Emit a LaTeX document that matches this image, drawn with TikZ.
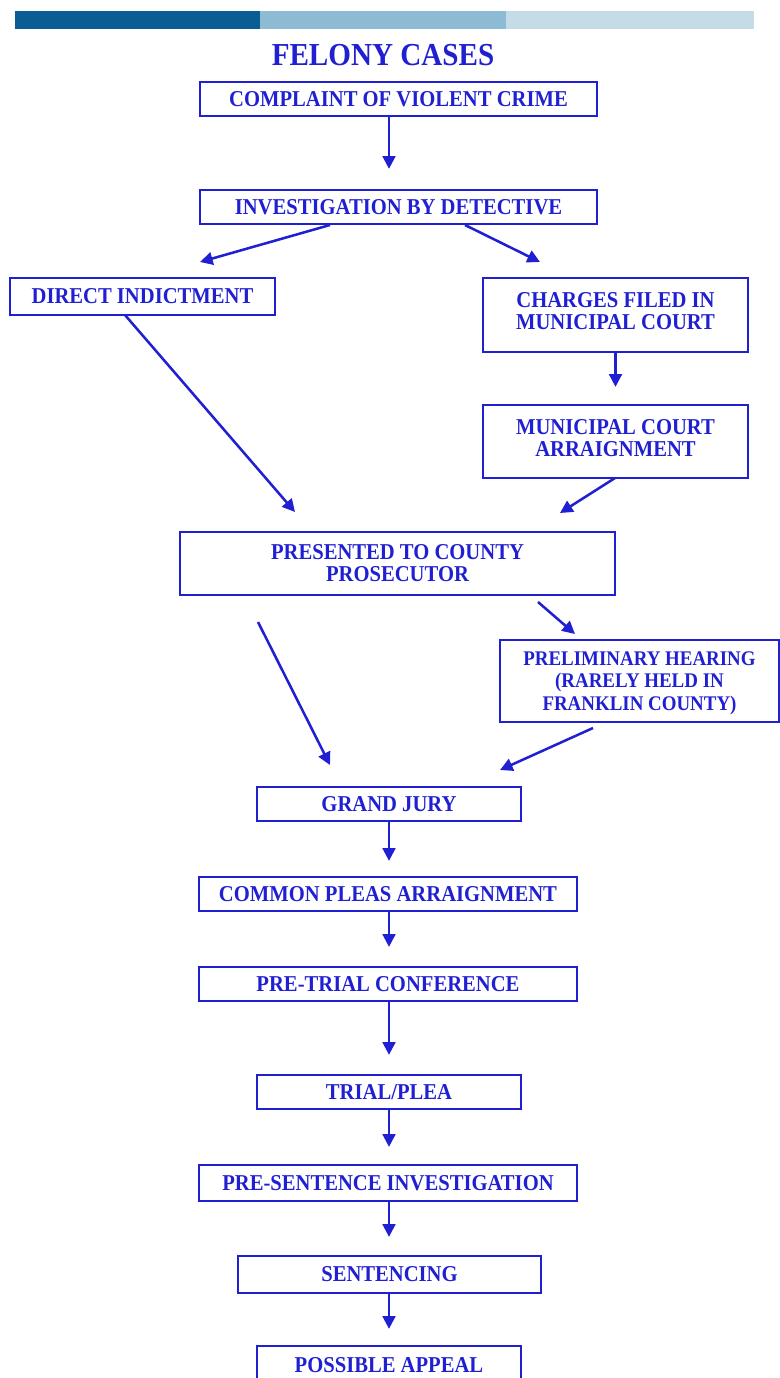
\documentclass[tikz,border=0pt]{standalone}
\usepackage{fontspec}
\setmainfont{Liberation Serif}
\newfontfamily\slidefont[FakeStretch=0.91]{Liberation Serif}
\usetikzlibrary{arrows.meta}

\definecolor{felonyblue}{RGB}{32,32,210}
\definecolor{bardark}{RGB}{10,93,148}
\definecolor{barmid}{RGB}{141,187,211}
\definecolor{barlight}{RGB}{197,220,232}

% one unit = one pixel of the slide
\newdimen\pxu \pxu=0.75pt

\tikzset{
  stage/.style={draw=felonyblue, line width=1.7pt, text=felonyblue,
    font=\slidefont\fontsize{17}{16.5}\selectfont\bfseries, align=center, inner sep=0pt},
  raised/.style={text depth=6pt},
  flow/.style={draw=felonyblue, line width=1.9pt,
    -{Triangle[length=9.5pt,width=9.5pt]}},
}

\begin{document}
\begin{tikzpicture}[x=0.75pt,y=-0.75pt]
    \useasboundingbox (0,0) rectangle (780,1378);
    \clip (0,0) rectangle (780,1378);

    % banner on top of the slide
    \fill[bardark] (15,11) rectangle (260,29);
    \fill[barmid] (260,11) rectangle (506,29);
    \fill[barlight] (506,11) rectangle (754,29);

    \node[text=felonyblue, font=\slidefont\fontsize{24}{26}\selectfont\bfseries] (title) at (383,55) {FELONY CASES};

    % the boxes
    \node[stage, minimum width=397\pxu, minimum height=34\pxu] (complaint) at (398.5,99) {COMPLAINT OF VIOLENT CRIME};
    \node[stage, minimum width=397\pxu, minimum height=34\pxu] (invest) at (398.5,207) {INVESTIGATION BY DETECTIVE};
    \node[stage, minimum width=265\pxu, minimum height=37\pxu] (direct) at (142.5,296.5) {DIRECT INDICTMENT};
    \node[stage, raised, minimum width=265\pxu, minimum height=74\pxu] (charges) at (615.5,315) {CHARGES FILED IN\\MUNICIPAL COURT};
    \node[stage, raised, minimum width=265\pxu, minimum height=73\pxu] (muniarr) at (615.5,441.5) {MUNICIPAL COURT\\ARRAIGNMENT};
    \node[stage, minimum width=435\pxu, minimum height=63\pxu] (presented) at (397.5,563.5) {PRESENTED TO COUNTY\\PROSECUTOR};
    \node[stage, font=\slidefont\fontsize{15.6}{17}\selectfont\bfseries, text depth=-1.5pt, minimum width=279\pxu, minimum height=82\pxu] (prelim) at (639.5,681) {PRELIMINARY HEARING\\(RARELY HELD IN\\FRANKLIN COUNTY)};
    \node[stage, minimum width=264\pxu, minimum height=34\pxu] (grand) at (389,804) {GRAND JURY};
    \node[stage, minimum width=378\pxu, minimum height=34\pxu] (common) at (388,894) {COMMON PLEAS ARRAIGNMENT};
    \node[stage, minimum width=378\pxu, minimum height=34\pxu] (pretrial) at (388,984) {PRE-TRIAL CONFERENCE};
    \node[stage, minimum width=264\pxu, minimum height=34\pxu] (trial) at (389,1092) {TRIAL/PLEA};
    \node[stage, minimum width=378\pxu, minimum height=36\pxu] (presentence) at (388,1183) {PRE-SENTENCE INVESTIGATION};
    \node[stage, minimum width=303\pxu, minimum height=37\pxu] (sentencing) at (389.5,1274.5) {SENTENCING};
    \node[stage, minimum width=264\pxu, minimum height=38\pxu] (appeal) at (389,1365) {POSSIBLE APPEAL};

    % loose ends of the slanted arrows
    \coordinate (invL) at (330,225);
    \coordinate (invR) at (465,225);
    \coordinate (dirIn) at (200,262);
    \coordinate (chgIn) at (540,262);
    \coordinate (dirOut) at (125,315);
    \coordinate (presInL) at (295,512);
    \coordinate (munOut) at (615,478);
    \coordinate (presInR) at (560,513);
    \coordinate (presOutR) at (538,602);
    \coordinate (prelIn) at (575,634);
    \coordinate (presOutL) at (258,622);
    \coordinate (grandInL) at (330,765);
    \coordinate (prelOut) at (593,728);
    \coordinate (grandInR) at (500,770);

    \draw[flow, shorten >=20\pxu] (complaint.south -| grand) -- (invest.north -| grand);
    \draw[flow] (invL) -- (dirIn);
    \draw[flow] (invR) -- (chgIn);
    \draw[flow, shorten >=17\pxu] (charges.south) -- (muniarr.north);
    \draw[flow] (dirOut) -- (presInL);
    \draw[flow] (munOut) -- (presInR);
    \draw[flow] (presOutR) -- (prelIn);
    \draw[flow] (presOutL) -- (grandInL);
    \draw[flow] (prelOut) -- (grandInR);

    % the trunk down to the appeal
    \draw[flow, shorten >=15\pxu] (grand.south) -- (common.north -| grand);
    \draw[flow, shorten >=19\pxu] (common.south -| grand) -- (pretrial.north -| grand);
    \draw[flow, shorten >=19\pxu] (pretrial.south -| grand) -- (trial.north);
    \draw[flow, shorten >=17\pxu] (trial.south) -- (presentence.north -| grand);
    \draw[flow, shorten >=18\pxu] (presentence.south -| grand) -- (sentencing.north -| grand);
    \draw[flow, shorten >=16\pxu] (sentencing.south -| grand) -- (appeal.north);

\end{tikzpicture}
\end{document}
